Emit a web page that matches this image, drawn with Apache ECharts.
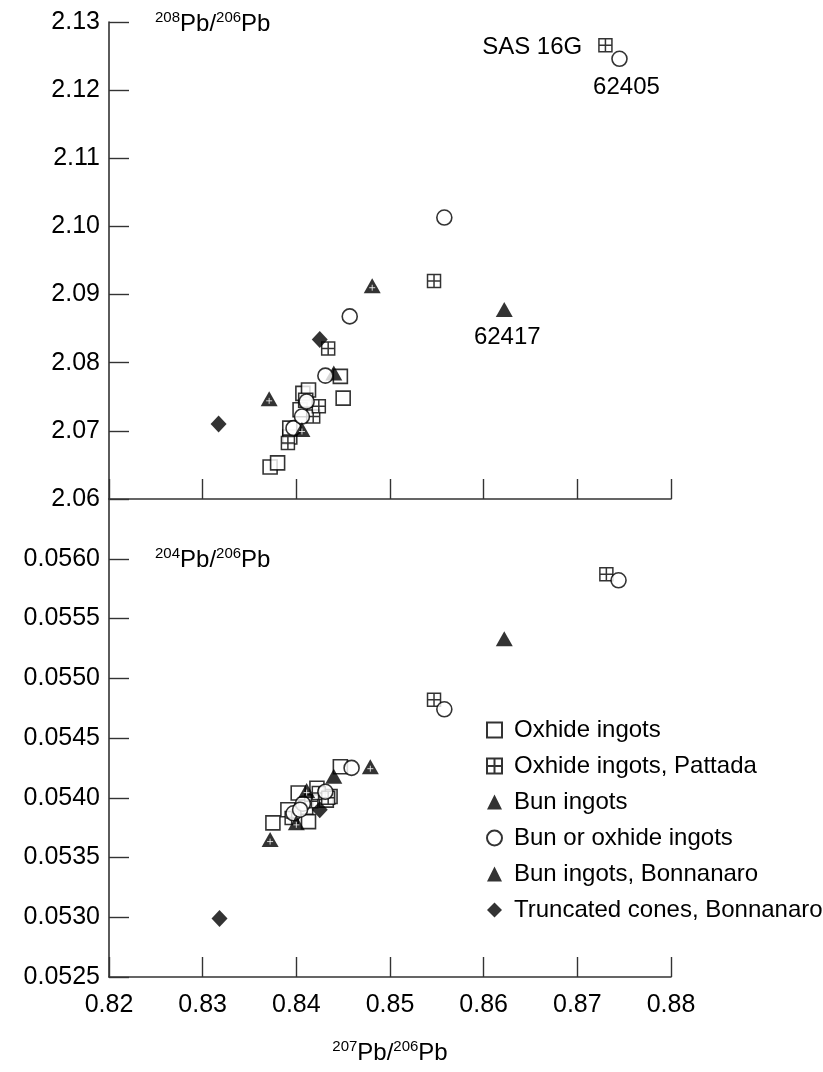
<!DOCTYPE html>
<html>
<head>
<meta charset="utf-8">
<script src="https://cdn.jsdelivr.net/npm/echarts@6/dist/echarts.min.js"></script>
<style>
html,body{margin:0;padding:0;background:#fff;}
#chart{width:823px;height:1072px;}
</style>
</head>
<body>
<div id="chart"></div>
<script>
// ---- Data: [207Pb/206Pb, 208Pb/206Pb] (top) and [207Pb/206Pb, 204Pb/206Pb] (bottom)
const oxideTop = [[0.8372,2.0647],[0.8380,2.0653],[0.8393,2.0691],[0.8393,2.0704],[0.8404,2.0731],[0.8407,2.0755],[0.8413,2.0760],[0.8410,2.0745],[0.8447,2.0780],[0.8450,2.0748]];
const oxideBot = [[0.8375,0.05379],[0.8391,0.05390],[0.8413,0.05380],[0.8402,0.05404],[0.8422,0.05408],[0.8436,0.05401],[0.8447,0.05426],[0.8410,0.05392],[0.8432,0.05398]];
const pattadaTop = [[0.8391,2.0682],[0.8418,2.0721],[0.8424,2.0736],[0.8434,2.0821],[0.8547,2.0920],[0.8730,2.1266]];
const pattadaBot = [[0.8395,0.05383],[0.8416,0.05397],[0.8424,0.05404],[0.8434,0.05400],[0.8547,0.05482],[0.8731,0.05587]];
const bunTop = [[0.8440,2.0785],[0.8622,2.0878]];
const bunBot = [[0.8440,0.05418],[0.8622,0.05533]];
const bunOxTop = [[0.8397,2.0704],[0.8406,2.0721],[0.8411,2.0743],[0.8431,2.0781],[0.8457,2.0868],[0.8558,2.1013],[0.8745,2.1246]];
const bunOxBot = [[0.8397,0.05387],[0.8407,0.05395],[0.8404,0.05390],[0.8431,0.05405],[0.8459,0.05425],[0.8558,0.05474],[0.8744,0.05582]];
const bonnTop = [[0.8371,2.0747],[0.8406,2.0702],[0.8481,2.0913]];
const bonnBot = [[0.8372,0.05365],[0.8400,0.05379],[0.8411,0.05406],[0.8479,0.05426]];
const conesTop = [[0.8317,2.0710],[0.8425,2.0834]];
const conesBot = [[0.8318,0.05299],[0.8425,0.05390]];

const seriesNames = ['Oxhide ingots','Oxhide ingots, Pattada','Bun ingots','Bun or oxhide ingots','Bun ingots, Bonnanaro','Truncated cones, Bonnanaro'];
const xTickLabels = ['0.82','0.83','0.84','0.85','0.86','0.87','0.88'];
const yTopTickLabels = ['2.06','2.07','2.08','2.09','2.10','2.11','2.12','2.13'];
const yBotTickLabels = ['0.0525','0.0530','0.0535','0.0540','0.0545','0.0550','0.0555','0.0560'];
// annotations: [series data array name, index, text, position]
const annotations = [
  ['pattadaTop', 5, 'SAS 16G', 'left'],
  ['bunOxTop', 6, '62405', 'bottom'],
  ['bunTop', 1, '62417', 'bottom']
];

const FONT = '"Liberation Sans", Arial, Helvetica, sans-serif';
const INK = '#000';
const AX = '#333';

const arrays = {oxideTop, oxideBot, pattadaTop, pattadaBot, bunTop, bunBot, bunOxTop, bunOxBot, bonnTop, bonnBot, conesTop, conesBot};
function withLabels(name){
  return arrays[name].map((p,i)=>{
    const a = annotations.find(q=>q[0]===name && q[1]===i);
    if(!a) return p;
    const lab = {show:true, formatter:a[2], position:a[3], color:INK, fontFamily:FONT, fontSize:24,
                 textBorderWidth:0, opacity:1};
    if(a[3]==='left'){ lab.distance = 16; lab.offset=[0,2]; }
    else { lab.distance = 8; lab.offset = name==='bunOxTop' ? [7,0] : [3,0]; }
    return {value:p, label:lab};
  });
}

const pattadaPath = 'path://M0,0H10V10H0Z M5,0V10 M0,5H10';
const crossPath = 'path://M5,0V10 M0,5H10';

const styles = [
  {symbol:'rect', symbolSize:14, itemStyle:{color:'#fff', borderColor:INK, borderWidth:1.6}},
  {symbol:pattadaPath, symbolSize:13, itemStyle:{color:'#fff', borderColor:INK, borderWidth:1.5}},
  {symbol:'triangle', symbolSize:[17,15], itemStyle:{color:'#000'}},
  {symbol:'circle', symbolSize:15, itemStyle:{color:'#fff', borderColor:INK, borderWidth:1.6}},
  {symbol:'triangle', symbolSize:[17,15], itemStyle:{color:'#000'}},
  {symbol:'diamond', symbolSize:[16,17], itemStyle:{color:'#000'}}
];
const topKeys = ['oxideTop','pattadaTop','bunTop','bunOxTop','bonnTop','conesTop'];
const botKeys = ['oxideBot','pattadaBot','bunBot','bunOxBot','bonnBot','conesBot'];

const series = [];
[topKeys, botKeys].forEach((keys, g)=>{
  keys.forEach((k,i)=>{
    series.push(Object.assign({
      name: seriesNames[i], type:'scatter', xAxisIndex:g, yAxisIndex:g,
      data: withLabels(k), z: 2+i, emphasis:{disabled:true}, animation:false
    }, styles[i]));
  });
  // white cross inside Bonnanaro triangles
  series.push({
    type:'scatter', xAxisIndex:g, yAxisIndex:g, data: arrays[keys[4]],
    symbol: crossPath, symbolSize:6, symbolOffset:[0,2], silent:true, z:10,
    itemStyle:{color:'none', borderColor:'#fff', borderWidth:1}, emphasis:{disabled:true}, animation:false
  });
});

const axisLine = {show:true, lineStyle:{color:AX, width:1.6}};
const axisTick = {show:true, inside:true, length:20, lineStyle:{color:AX, width:1.4}};

const supRich = {
  m:{fontSize:24, fontFamily:FONT, color:INK, lineHeight:26, verticalAlign:'bottom'},
  s:{fontSize:15, fontFamily:FONT, color:INK, lineHeight:26, verticalAlign:'top', padding:[0,0,8,0]}
};
const ratio = (a,b)=>`{s|${a}}{m|Pb/}{s|${b}}{m|Pb}`;

const option = {
  backgroundColor:'#fff',
  animation:false,
  grid:[
    {left:109, top:22, width:562, height:477},
    {left:109, top:499, width:562, height:478}
  ],
  xAxis:[
    {gridIndex:0, type:'value', min:0.82, max:0.88, interval:0.01,
     axisLine, axisTick, axisLabel:{show:false}, splitLine:{show:false}},
    {gridIndex:1, type:'value', min:0.82, max:0.88, interval:0.01,
     axisLine, axisTick, splitLine:{show:false},
     axisLabel:{fontSize:25, fontFamily:FONT, color:INK, margin:16,
       formatter:v=>xTickLabels[Math.round((v-0.82)/0.01)] || ''},
     name: ratio(207,206), nameLocation:'middle', nameGap:62,
     nameTextStyle:{rich:supRich}}
  ],
  yAxis:[
    {gridIndex:0, type:'value', min:2.06, max:2.13, interval:0.01,
     axisLine, axisTick, splitLine:{show:false},
     axisLabel:{fontSize:25, fontFamily:FONT, color:INK, margin:9,
       formatter:v=>yTopTickLabels[Math.round((v-2.06)/0.01)] || ''}},
    {gridIndex:1, type:'value', min:0.0525, max:0.0565, interval:0.0005,
     axisLine, axisTick, splitLine:{show:false},
     axisLabel:{fontSize:25, fontFamily:FONT, color:INK, margin:9, showMaxLabel:false,
       formatter:v=>yBotTickLabels[Math.round((v-0.0525)/0.0005)] || ''}}
  ],
  legend:{
    data:seriesNames, orient:'vertical', left:481, top:713,
    itemWidth:15, itemHeight:15, itemGap:12,
    textStyle:{fontSize:24, fontFamily:FONT, color:INK, lineHeight:24, padding:[0,0,0,7]},
    selectedMode:false
  },
  graphic:[
    {type:'text', left:155, top:10, style:{text:ratio(208,206), rich:supRich}},
    {type:'text', left:155, top:546, style:{text:ratio(204,206), rich:supRich}}
  ],
  series
};

const chart = echarts.init(document.getElementById('chart'), null, {renderer:'canvas'});
chart.setOption(option);
</script>
</body>
</html>
